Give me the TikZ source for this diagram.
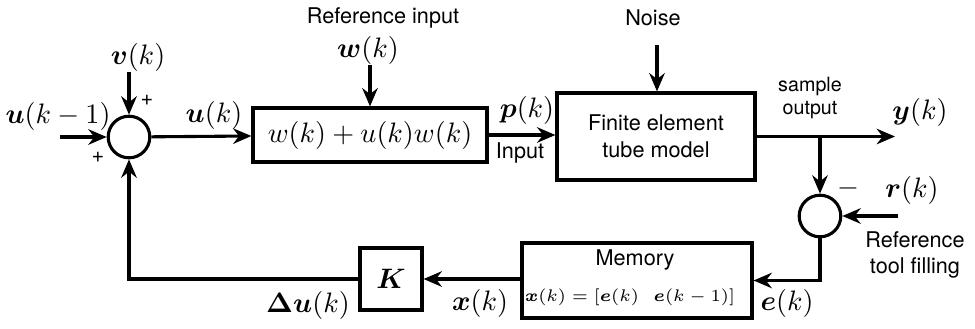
\documentclass[tikz,border=0pt]{standalone}
\usepackage{bm}
\usepackage{fontspec}
\newfontfamily\helv{TeX Gyre Heros}
\usetikzlibrary{arrows.meta}
\begin{document}
\begin{tikzpicture}[x=0.0125cm,y=-0.0125cm,line width=1.1pt,>={Stealth[length=6.5pt,width=5.5pt]}]
\tikzstyle{block}=[draw,shape=rectangle,inner sep=0pt]
\tikzstyle{sum}=[draw,shape=circle,inner sep=0pt,minimum size=0.52cm]
\tikzstyle{txt}=[font=\helv\fontsize{7.7}{9.5}\selectfont,inner sep=0pt,align=center]
\tikzstyle{small}=[font=\helv\fontsize{7}{8.5}\selectfont,inner sep=0pt,align=center]
\tikzstyle{lbl}=[inner sep=0pt]
\useasboundingbox (0,0) rectangle (975,328);

% blocks
\path (129,137) node[sum](s1){} (820,216) node[sum](s2){};
\path (370,135) node[block,minimum width=2.925cm,minimum height=0.675cm](gain){$w(k)+u(k)w(k)$};
\path (656,136.5) node[block,minimum width=2.475cm,minimum height=1.0875cm,txt](fem){Finite element\\tube model};
\path (637,280.5) node[block,minimum width=2.875cm,minimum height=0.9375cm](mem){};
\path (391,279) node[block,minimum size=0.775cm](K){$\bm{K}$};
\path (635,260) node[txt](memt){Memory};
\path (630,297) node[lbl,font=\fontsize{6.3}{7.5}\selectfont](memf){$\bm{x}(k)=[\bm{e}(k)\ \ \bm{e}(k-1)]$};

% free ends
\coordinate (uin) at (60,137);
\coordinate (vin) at (129,72);
\coordinate (win) at (370,65);
\coordinate (nin) at (657,45);
\coordinate (yout) at (895,136.5);
\coordinate (br) at (820,136.5);
\coordinate (rin) at (898,216);

% connectors
\draw[->] (uin) -- (s1);
\draw[->] (vin) -- (s1);
\draw[->] (s1) -- (gain);
\draw[->] (win) -- (gain);
\draw[->] (gain.east) -- (gain.east -| fem.west);
\draw[->] (nin) -- (fem.north -| nin);
\draw[->] (fem.east |- yout) -- (yout);
\draw[->] (br) -- (s2);
\draw[->] (rin) -- (s2);
\draw[->] (s2.south) |- (mem.east);
\draw[->] (mem.west |- K) -- (K);
\draw[->] (K.west) -| (s1.south);

% labels
\path (58,116) node[lbl](lu1){$\bm{u}(k-1)$};
\path (138,57) node[lbl](lv){$\bm{v}(k)$};
\path (98,157) node[txt](p1){+};
\path (147,100) node[txt](p2){+};
\path (214,115) node[lbl](lu){$\bm{u}(k)$};
\path (383,18) node[txt](rit){Reference input};
\path (368,50) node[lbl](lw){$\bm{w}(k)$};
\path (527,110) node[lbl](lp){$\bm{p}(k)$};
\path (520,153) node[txt](lin){Input};
\path (653,18) node[txt](lnoise){Noise};
\path (810,98) node[small](lso){sample\\output};
\path (920,112) node[lbl](ly){$\bm{y}(k)$};
\path (848,188) node[lbl](lm){$-$};
\path (912,190) node[lbl](lr){$\bm{r}(k)$};
\path (915,255) node[txt](lref){Reference\\tool filling};
\path (787,303) node[lbl](le){$\bm{e}(k)$};
\path (480,303) node[lbl](lx){$\bm{x}(k)$};
\path (308,305) node[lbl](ldu){$\bm{\Delta u}(k)$};
\end{tikzpicture}
\end{document}
